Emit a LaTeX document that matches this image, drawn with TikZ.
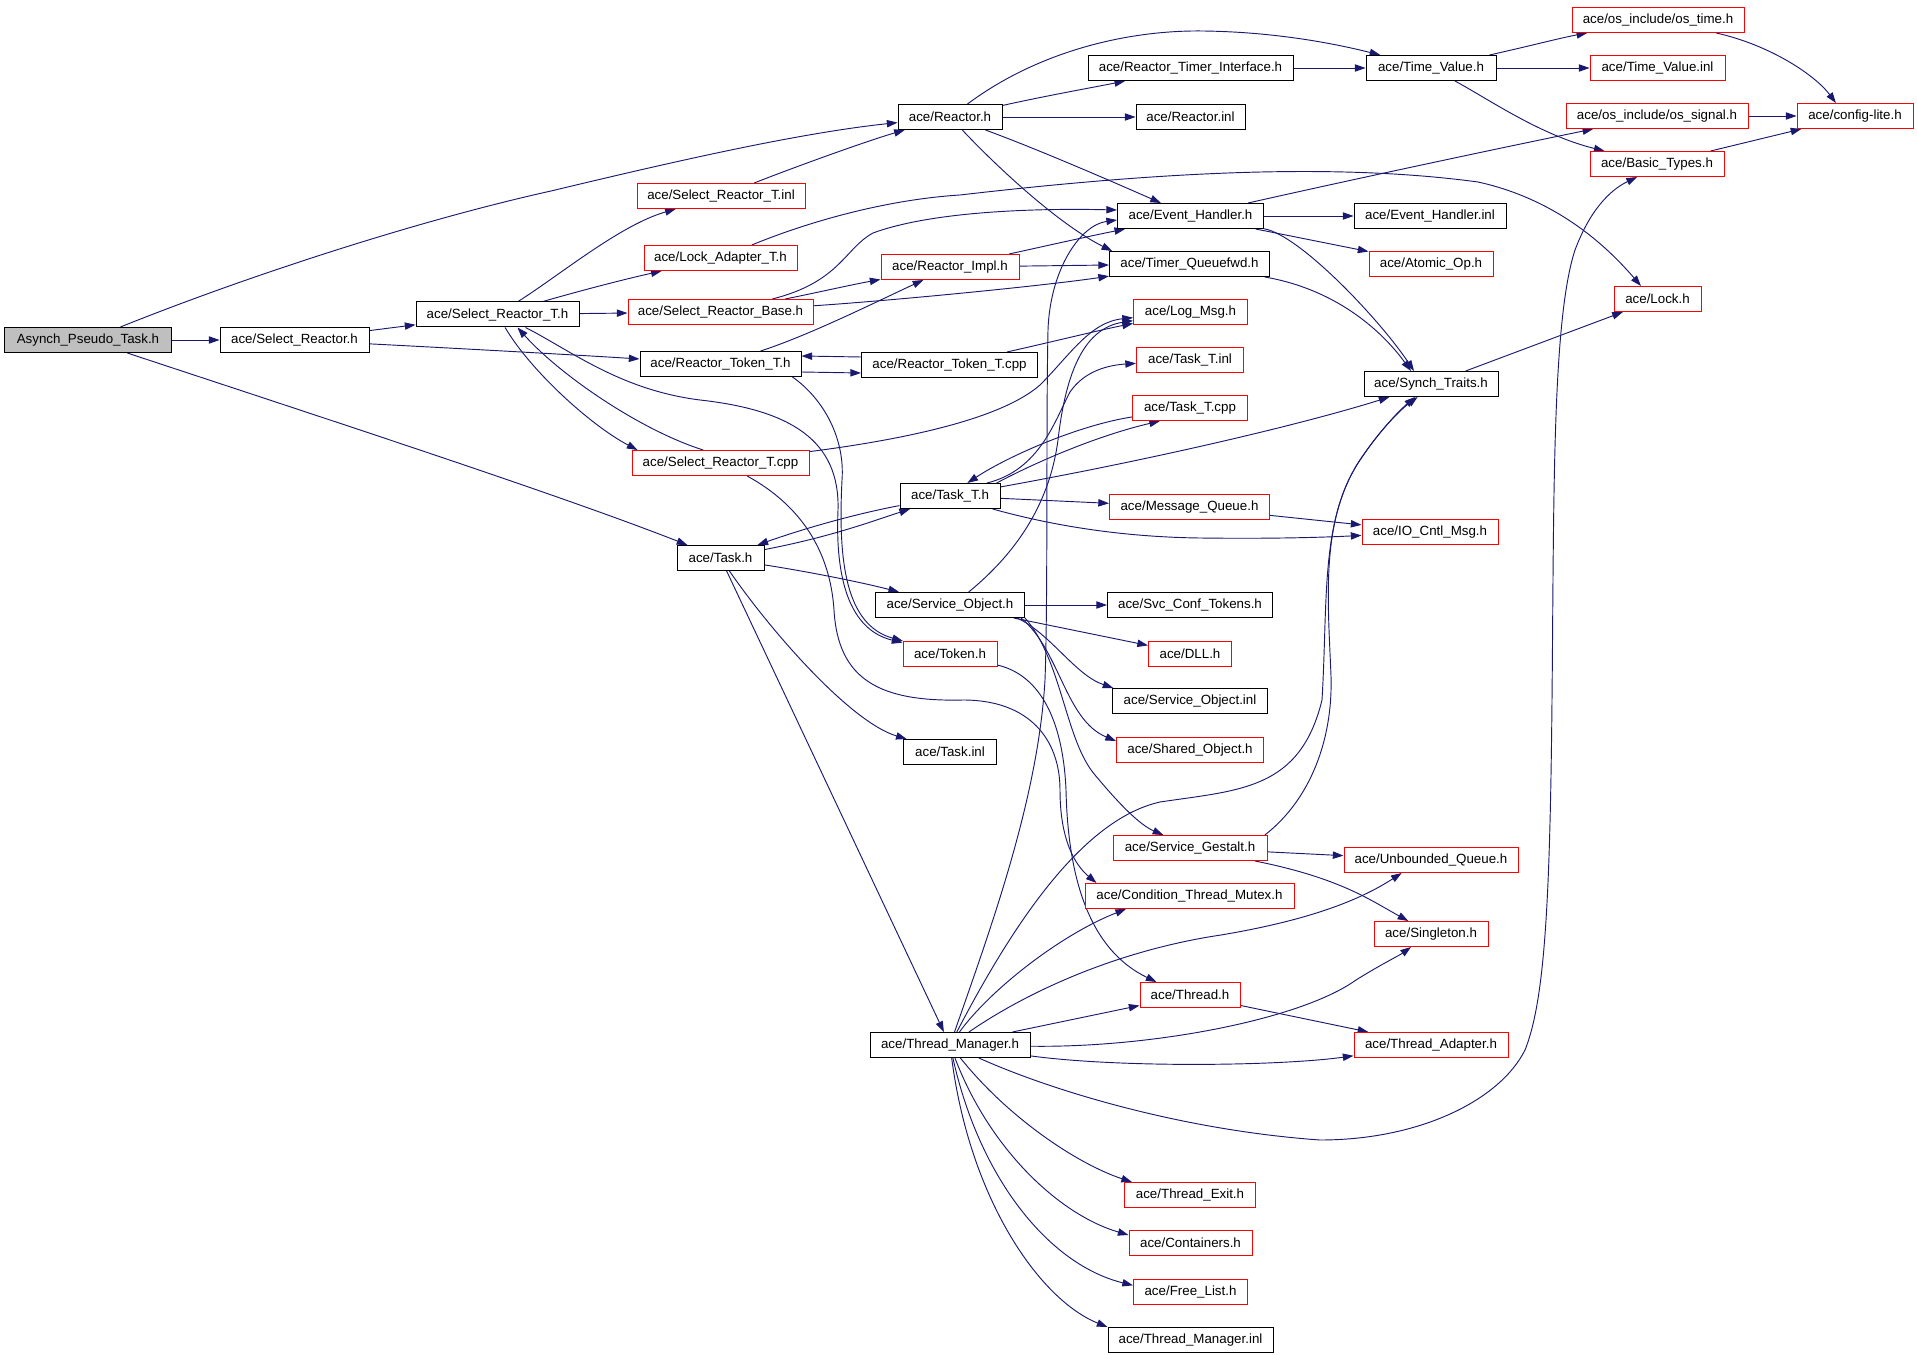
\documentclass[tikz,border=0pt]{standalone}
\usepackage{fontspec}
\setmainfont{Liberation Sans}
\usetikzlibrary{arrows.meta}
\definecolor{edgecol}{HTML}{191970}
\definecolor{grayfill}{HTML}{BFBFBF}
\pgfdeclarelayer{bg}
\pgfsetlayers{bg,main}
\tikzset{
  nbox/.style={draw=black, fill=white, line width=0.75pt, minimum height=18.75pt, inner sep=0pt, text=black, font=\fontsize{10pt}{12pt}\selectfont},
  rnbox/.style={nbox, draw=red},
  bw/.style={minimum width=#1*0.75pt},
  dep/.style={draw=edgecol, line width=0.7pt, -{Triangle[length=8pt,width=5.5pt]}}
}
\begin{document}
\begin{tikzpicture}[x=0.75pt,y=-0.75pt]
\useasboundingbox (0,0) rectangle (1917,1355);
% column 1-2
\node[nbox, bw=167, fill=grayfill] (asy) at (88,340) {Asynch\_Pseudo\_Task.h};
\node[nbox, bw=149] (sr) at (294.5,340) {ace/Select\_Reactor.h};
\node[nbox, bw=163] (srT) at (497.5,314.5) {ace/Select\_Reactor\_T.h};
\node[rnbox, bw=168] (srTinl) at (721,196) {ace/Select\_Reactor\_T.inl};
\node[rnbox, bw=153] (lad) at (720.5,258) {ace/Lock\_Adapter\_T.h};
\node[rnbox, bw=185] (srb) at (720.5,312) {ace/Select\_Reactor\_Base.h};
\node[nbox, bw=161] (rtT) at (720.5,364) {ace/Reactor\_Token\_T.h};
\node[rnbox, bw=177] (srTcpp) at (720.5,463) {ace/Select\_Reactor\_T.cpp};
\node[nbox, bw=87] (task) at (720.5,558) {ace/Task.h};
% column 3
\node[nbox, bw=104] (reactor) at (950,117) {ace/Reactor.h};
\node[rnbox, bw=138] (rimpl) at (950,267) {ace/Reactor\_Impl.h};
\node[nbox, bw=176] (rtTcpp) at (949.5,365) {ace/Reactor\_Token\_T.cpp};
\node[nbox, bw=100] (taskT) at (950,496) {ace/Task\_T.h};
\node[nbox, bw=149] (svcobj) at (950,605) {ace/Service\_Object.h};
\node[rnbox, bw=94] (token) at (950,654) {ace/Token.h};
\node[nbox, bw=93] (taskinl) at (950,752) {ace/Task.inl};
\node[nbox, bw=160] (tm) at (950,1045) {ace/Thread\_Manager.h};
% column 4
\node[nbox, bw=205] (rti) at (1190.5,68) {ace/Reactor\_Timer\_Interface.h};
\node[nbox, bw=109] (rinl) at (1190.5,117) {ace/Reactor.inl};
\node[nbox, bw=146] (evh) at (1190.5,216) {ace/Event\_Handler.h};
\node[nbox, bw=160] (tqf) at (1189.5,264) {ace/Timer\_Queuefwd.h};
\node[rnbox, bw=114] (logmsg) at (1190.5,312) {ace/Log\_Msg.h};
\node[rnbox, bw=107] (taskTinl) at (1190,360) {ace/Task\_T.inl};
\node[rnbox, bw=115] (taskTcpp) at (1190,408) {ace/Task\_T.cpp};
\node[rnbox, bw=160] (msgq) at (1189.5,507) {ace/Message\_Queue.h};
\node[nbox, bw=165] (svcconf) at (1190,605) {ace/Svc\_Conf\_Tokens.h};
\node[rnbox, bw=83] (dll) at (1190,654) {ace/DLL.h};
\node[nbox, bw=155] (soinl) at (1190,701) {ace/Service\_Object.inl};
\node[rnbox, bw=147] (shobj) at (1190,750) {ace/Shared\_Object.h};
\node[rnbox, bw=154] (gestalt) at (1190,848) {ace/Service\_Gestalt.h};
\node[rnbox, bw=209] (condm) at (1189.5,896) {ace/Condition\_Thread\_Mutex.h};
\node[rnbox, bw=100] (thread) at (1190,995) {ace/Thread.h};
\node[rnbox, bw=131] (texit) at (1190,1195) {ace/Thread\_Exit.h};
\node[rnbox, bw=123] (contain) at (1190.5,1243) {ace/Containers.h};
\node[rnbox, bw=114] (freel) at (1190.5,1292) {ace/Free\_List.h};
\node[nbox, bw=165] (tminl) at (1190.5,1340) {ace/Thread\_Manager.inl};
% column 5
\node[nbox, bw=130] (tv) at (1431,68) {ace/Time\_Value.h};
\node[nbox, bw=152] (evhinl) at (1430,216) {ace/Event\_Handler.inl};
\node[rnbox, bw=124] (atomic) at (1431,264) {ace/Atomic\_Op.h};
\node[nbox, bw=134] (synch) at (1431,384) {ace/Synch\_Traits.h};
\node[rnbox, bw=136] (iocntl) at (1430,532) {ace/IO\_Cntl\_Msg.h};
\node[rnbox, bw=174] (unbq) at (1431,860) {ace/Unbounded\_Queue.h};
\node[rnbox, bw=114] (single) at (1431,934) {ace/Singleton.h};
\node[rnbox, bw=154] (tadapt) at (1431,1045) {ace/Thread\_Adapter.h};
% column 6-7
\node[rnbox, bw=172] (ostime) at (1658,20) {ace/os\_include/os\_time.h};
\node[rnbox, bw=135] (tvinl) at (1657.5,68) {ace/Time\_Value.inl};
\node[rnbox, bw=182] (ossig) at (1657,116) {ace/os\_include/os\_signal.h};
\node[rnbox, bw=134] (basic) at (1657,164) {ace/Basic\_Types.h};
\node[rnbox, bw=87] (lock) at (1657.5,299) {ace/Lock.h};
\node[rnbox, bw=116] (config) at (1855,116) {ace/config-lite.h};

\begin{pgfonlayer}{bg}
\fill[white] (0,0) rectangle (1917,1355);
\draw[dep] (asy) .. controls (250,275) and (420,220) .. (551,191) .. controls (680,160) and (800,133) .. (reactor);
\draw[dep] (asy) -- (sr);
\draw[dep] (asy) .. controls (330,420) and (560,495) .. (task);
\draw[dep] (sr) -- (srT);
\draw[dep] (sr) .. controls (450,348) and (560,354) .. (rtT);
\draw[dep] (srT) .. controls (560,275) and (620,225) .. (srTinl);
\draw[dep] (srT) .. controls (590,288) and (630,278) .. (lad);
\draw[dep] (srT) -- (srb);
\draw[dep] (srT) .. controls (530,370) and (590,425) .. ([xshift=4.5pt]srTcpp.north west);
\draw[dep] ([xshift=-13pt]srTcpp.north) .. controls (640,430) and (560,375) .. ([xshift=15pt]srT.south);
\draw[dep] ([xshift=21pt]srT.south) .. controls (570,350) and (620,390) .. (700,400) .. controls (790,410) and (840,440) .. (838,510) .. controls (835,580) and (850,630) .. (token);
\draw[dep] ([xshift=54pt]rtT.south) .. controls (825,400) and (845,440) .. (842,480) .. controls (838,560) and (845,625) .. (token);
\draw[dep] ([xshift=20pt]srTcpp.south) .. controls (800,505) and (830,550) .. (834,610) .. controls (838,680) and (880,702) .. (963,700) .. controls (1030,700) and (1060,740) .. (1060,790) .. controls (1060,840) and (1075,865) .. ([xshift=9pt]condm.north west);
\draw[dep] (token) .. controls (1040,675) and (1063,720) .. (1066,790) .. controls (1068,880) and (1090,950) .. ([xshift=12.75pt]thread.north west);
\draw[dep] (srTcpp) .. controls (900,440) and (1000,420) .. (1040,385) .. controls (1070,355) and (1090,322) .. (logmsg);
\draw[dep] (rtT) .. controls (810,335) and (880,300) .. ([xshift=-20pt]rimpl.south);
\draw[dep] ([yshift=-6pt]rtT.east) -- ([yshift=-6pt]rtTcpp.west);
\draw[dep] ([yshift=6pt]rtTcpp.west) -- ([yshift=6pt]rtT.east);
\draw[dep] (rtTcpp) .. controls (1060,340) and (1100,330) .. (logmsg);
\draw[dep] (srTinl) .. controls (800,165) and (870,140) .. (reactor);
\draw[dep] (lad) .. controls (800,225) and (880,200) .. (960,195) .. controls (1150,173) and (1330,162) .. (1478,182) .. controls (1560,200) and (1610,250) .. ([xshift=-12.4pt]lock.north);
\draw[dep] (srb) .. controls (840,282) and (845,248) .. (873,233) .. controls (930,212) and (1030,208) .. ([yshift=4.5pt]evh.west);
\draw[dep] (srb) .. controls (820,292) and (850,285) .. (rimpl);
\draw[dep] (srb) .. controls (900,300) and (1050,285) .. (tqf);
\draw[dep] (rimpl) .. controls (1050,245) and (1090,236) .. (evh);
\draw[dep] (rimpl) -- (tqf);
\draw[dep] (reactor) .. controls (1040,50) and (1130,30) .. (1203,31) .. controls (1280,32) and (1340,45) .. ([xshift=-38pt]tv.north);
\draw[dep] (reactor) .. controls (1050,95) and (1090,88) .. (rti);
\draw[dep] (reactor) -- (rinl);
\draw[dep] (reactor) .. controls (1040,150) and (1120,185) .. (evh);
\draw[dep] (reactor) .. controls (1000,170) and (1060,225) .. ([xshift=-58pt]tqf.north);
\draw[dep] (rti) -- (tv);
\draw[dep] (tv) .. controls (1530,46) and (1560,38) .. (ostime);
\draw[dep] (tv) -- (tvinl);
\draw[dep] (tv) .. controls (1490,100) and (1540,135) .. (basic);
\draw[dep] (ostime) .. controls (1770,45) and (1815,75) .. ([xshift=-14.3pt]config.north);
\draw[dep] (ossig) -- (config);
\draw[dep] (basic) -- (config);
\draw[dep] (evh) .. controls (1350,180) and (1500,148) .. (ossig);
\draw[dep] (evh) -- (evhinl);
\draw[dep] (evh) -- (atomic);
\draw[dep] (evh) .. controls (1300,235) and (1380,320) .. ([xshift=-12.75pt]synch.north);
\draw[dep] (tqf) .. controls (1340,290) and (1385,335) .. ([xshift=-15pt]synch.north);
\draw[dep] (synch) -- (lock);
\draw[dep] (taskT) .. controls (1150,460) and (1300,425) .. (synch);
\draw[dep] ([xshift=-2pt]gestalt.north east) .. controls (1310,800) and (1333,740) .. (1331,676) .. controls (1328,600) and (1320,520) .. (1360,460) .. controls (1380,430) and (1400,410) .. ([xshift=-12pt]synch.south);
\draw[dep] (tm) .. controls (1010,930) and (1080,820) .. (1160,802) .. controls (1240,790) and (1300,790) .. (1322,700) .. controls (1328,600) and (1320,520) .. (1360,460) .. controls (1380,430) and (1400,410) .. ([xshift=-10pt]synch.south);
\draw[dep] ([xshift=27.75pt]taskT.north) .. controls (1040,470) and (1055,420) .. (1070,392) .. controls (1085,370) and (1110,365) .. (taskTinl);
\draw[dep] ([xshift=35pt]taskT.north) .. controls (1040,460) and (1100,435) .. ([xshift=-22.5pt]taskTcpp.south);
\draw[dep] (taskTcpp) .. controls (1080,425) and (1010,455) .. ([xshift=13pt]taskT.north);
\draw[dep] (taskT) -- (msgq);
\draw[dep] ([xshift=32pt]taskT.south) .. controls (1050,525) and (1120,537) .. (1200,538) .. controls (1280,539) and (1330,537) .. (iocntl);
\draw[dep] (msgq) -- (iocntl);
\draw[dep] (task) .. controls (830,537) and (870,522) .. (taskT);
\draw[dep] (taskT) .. controls (850,515) and (800,530) .. (task);
\draw[dep] (task) .. controls (810,572) and (860,582) .. (svcobj);
\draw[dep] (task) .. controls (770,630) and (850,722) .. (taskinl);
\draw[dep] (task) -- (tm);
\draw[dep] (svcobj) -- (svcconf);
\draw[dep] (svcobj) -- (dll);
\draw[dep] ([xshift=-6pt]svcobj.south east) .. controls (1050,633) and (1075,675) .. ([xshift=1pt]soinl.north west);
\draw[dep] ([xshift=-3pt]svcobj.south east) .. controls (1060,650) and (1065,720) .. ([yshift=-3pt]shobj.north west);
\draw[dep] (svcobj.south east) .. controls (1062,660) and (1065,740) .. (1095,775) .. controls (1120,805) and (1140,825) .. ([xshift=-20pt]gestalt.north);
\draw[dep] ([xshift=14pt]svcobj.north) .. controls (1020,550) and (1050,500) .. (1058,440) .. controls (1066,370) and (1085,328) .. (logmsg);
\draw[dep] (gestalt) -- (unbq);
\draw[dep] (gestalt) .. controls (1340,878) and (1370,900) .. ([xshift=-17pt]single.north);
\draw[dep] (tm) .. controls (990,990) and (1060,935) .. ([xshift=-47.6pt]condm.south);
\draw[dep] (tm) .. controls (1030,990) and (1120,950) .. (1221,935) .. controls (1310,920) and (1360,900) .. ([xshift=-22pt]unbq.south);
\draw[dep] (tm) -- (thread);
\draw[dep] (thread) -- (tadapt);
\draw[dep] (tm) .. controls (1150,1048) and (1300,1020) .. (1356,980) .. controls (1380,965) and (1400,955) .. ([xshift=-15pt]single.south);
\draw[dep] (tm) .. controls (1120,1068) and (1280,1066) .. (tadapt);
\draw[dep] (tm) .. controls (1050,1090) and (1180,1130) .. (1320,1140) .. controls (1420,1140) and (1500,1100) .. (1525,1050) .. controls (1545,1000) and (1550,900) .. (1552,700) .. controls (1554,500) and (1552,320) .. (1575,250) .. controls (1590,210) and (1610,190) .. ([xshift=-15pt]basic.south);
\draw[dep] (tm) .. controls (1010,1120) and (1080,1165) .. ([xshift=6pt]texit.north west);
\draw[dep] (tm) .. controls (990,1150) and (1060,1215) .. ([yshift=6pt]contain.west);
\draw[dep] (tm) .. controls (980,1180) and (1050,1265) .. ([yshift=5pt]freel.west);
\draw[dep] (tm) .. controls (970,1200) and (1040,1300) .. (tminl.north west);
\draw[dep] (tm) .. controls (990,930) and (1038,800) .. (1045,680) .. controls (1048,600) and (1046,420) .. (1048,330) .. controls (1050,270) and (1080,225) .. ([yshift=-3pt]evh.west);
\end{pgfonlayer}
\end{tikzpicture}
\end{document}
